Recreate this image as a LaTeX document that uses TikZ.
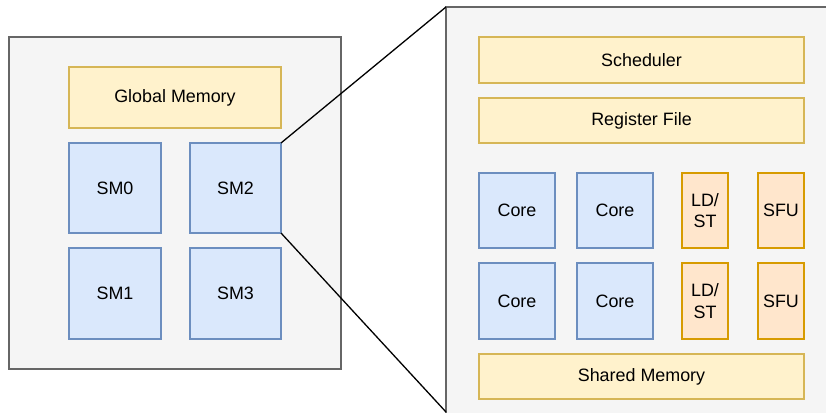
\documentclass[tikz,border=0pt]{standalone}
\usepackage{fontspec}
\setmainfont{Liberation Sans}
\definecolor{boxfill}{HTML}{F5F5F5}
\definecolor{boxline}{HTML}{666666}
\definecolor{memfill}{HTML}{FFF2CC}
\definecolor{memline}{HTML}{D6B656}
\definecolor{unitfill}{HTML}{DAE8FC}
\definecolor{unitline}{HTML}{6C8EBF}
\definecolor{fnfill}{HTML}{FFE6CC}
\definecolor{fnline}{HTML}{D79B00}
\tikzset{
  blk/.style={rectangle, inner sep=0pt, outer sep=0pt, line width=1.3pt,
    align=center, font=\fontsize{17.9}{21.6}\selectfont},
  container/.style={blk, draw=boxline, fill=boxfill},
  mem/.style={blk, draw=memline, fill=memfill},
  unit/.style={blk, draw=unitline, fill=unitfill},
  fn/.style={blk, draw=fnline, fill=fnfill},
  zoomline/.style={line width=1.3pt, draw=black}
}
\begin{document}
\begin{tikzpicture}[x=1pt, y=-1pt]
  \useasboundingbox (0,0) rectangle (826,412);
  \clip (0,0) rectangle (826,412);

  % GPU overview
  \node[container, minimum width=332pt, minimum height=332pt] (gpu) at (175,203) {};
  \node[mem, minimum width=212pt, minimum height=61pt] (gmem) at (175,97.5) {Global Memory};
  \node[unit, minimum width=92pt, minimum height=90pt] (sm0) at (115,188) {SM0};
  \node[unit, minimum width=91pt, minimum height=90pt] (sm2) at (235.5,188) {SM2};
  \node[unit, minimum width=92pt, minimum height=91pt] (sm1) at (115,293.5) {SM1};
  \node[unit, minimum width=91pt, minimum height=91pt] (sm3) at (235.5,293.5) {SM3};

  % Detail of one streaming multiprocessor (runs past the page edges)
  \node[container, minimum width=400pt, minimum height=408pt] (smd) at (646,211) {};
  \coordinate (smbl) at (446,412);
  \node[mem, minimum width=325pt, minimum height=46pt] (sched) at (641.5,60) {Scheduler};
  \node[mem, minimum width=325pt, minimum height=45pt] (regs) at (641.5,120.5) {Register File};

  \node[unit, minimum width=76pt, minimum height=75pt] (c1) at (517,210.5) {Core};
  \node[unit, minimum width=76pt, minimum height=75pt] (c2) at (615,210.5) {Core};
  \node[fn, minimum width=46pt, minimum height=75pt] (ls1) at (705,210.5) {LD/\\ST};
  \node[fn, minimum width=46pt, minimum height=75pt] (sfu1) at (781,210.5) {SFU};

  \node[unit, minimum width=76pt, minimum height=76pt] (c3) at (517,301) {Core};
  \node[unit, minimum width=76pt, minimum height=76pt] (c4) at (615,301) {Core};
  \node[fn, minimum width=46pt, minimum height=76pt] (ls2) at (705,301) {LD/\\ST};
  \node[fn, minimum width=46pt, minimum height=76pt] (sfu2) at (781,301) {SFU};

  \node[mem, minimum width=325pt, minimum height=45pt] (smem) at (641.5,376.5) {Shared Memory};

  % Zoom lines from SM2 to its detail view
  \draw[zoomline] (sm2.north east) -- (smd.north west);
  \draw[zoomline] (sm2.south east) -- (smbl);
\end{tikzpicture}
\end{document}
